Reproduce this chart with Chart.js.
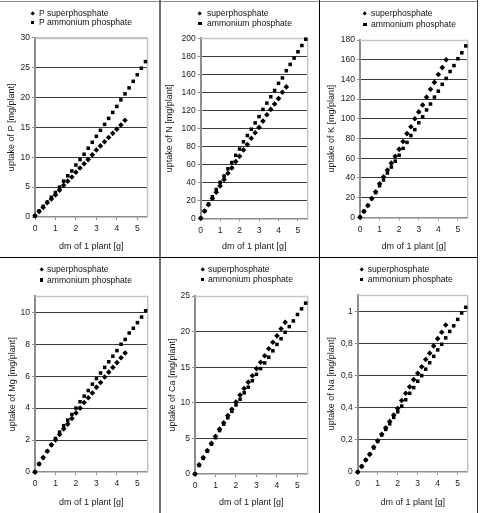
<!DOCTYPE html>
<html>
<head>
<meta charset="utf-8">
<script src="https://cdn.jsdelivr.net/npm/chart.js@4.4.0/dist/chart.umd.min.js"></script>
<style>
  html, body { margin: 0; padding: 0; background: #fff; }
  #wrap { position: relative; width: 480px; height: 513px; background: #fff; overflow: hidden; }
  .panel { position: absolute; width: 160px; height: 257px; }
  .panel canvas { position: absolute; left: 0; top: 0; }
  .leg { position: absolute; font: 8.6px "Liberation Sans", Arial, sans-serif; color: #111; white-space: nowrap; line-height: 10px; }
  .mk { position: absolute; background: #000; }
  .line { position: absolute; }
</style>
</head>
<body>
<div id="wrap"></div>
<script>
// ---- data ----
const xSuper = [0,0.2,0.4,0.6,0.8,1.0,1.2,1.4,1.6,1.8,2.0,2.2,2.4,2.6,2.8,3.0,3.2,3.4,3.6,3.8,4.0,4.2,4.4];
const xAmmon = [0,0.2,0.4,0.6,0.8,1.0,1.2,1.4,1.6,1.8,2.0,2.2,2.4,2.6,2.8,3.0,3.2,3.4,3.6,3.8,4.0,4.2,4.4,4.6,4.8,5.0,5.2,5.4];

const pSuper = [0.2,0.9,1.6,2.4,3.0,3.7,4.5,5.3,6.0,6.7,7.5,8.2,8.9,9.6,10.4,11.2,11.9,12.6,13.3,14.0,14.7,15.4,16.2];
const pAmmon = [0.2,1.0,1.8,2.5,3.3,4.1,5.0,6.0,6.9,7.7,8.7,9.6,10.5,11.5,12.5,13.5,14.5,15.5,16.5,17.5,18.5,19.6,20.6,21.6,22.7,23.8,24.9,26.0];

const nSuper = [0,8,15,22,29,36,43,50,56,63,69,76,82,89,95,101,108,115,121,127,133,140,146];
const nAmmon = [0,8,16,24,32,40,47,55,62,70,77,85,92,99,106,113,121,128,135,142,150,156,164,171,178,185,192,199];

const kSuper = [0,6,12,19,26,34,41,48,55,62,69,77,85,92,100,107,114,122,130,137,145,152,160];
const kAmmon = [0,6,12,19,25,32,38,45,51,57,63,70,76,83,89,96,102,109,115,122,128,135,141,148,154,161,167,174];

const mgSuper = [0,0.5,0.9,1.3,1.7,2.0,2.35,2.7,3.0,3.35,3.7,4.0,4.35,4.65,4.95,5.3,5.6,5.95,6.25,6.55,6.85,7.15,7.45];
const mgAmmon = [0,0.5,0.9,1.3,1.7,2.1,2.5,2.9,3.25,3.6,4.0,4.4,4.75,5.1,5.5,5.85,6.2,6.55,6.9,7.25,7.6,8.0,8.3,8.7,9.0,9.35,9.7,10.1];

const caSuper = [0,1.3,2.3,3.3,4.3,5.3,6.3,7.2,8.2,9.1,10.1,11.1,12.0,12.9,13.8,14.8,15.7,16.6,17.6,18.5,19.4,20.4,21.3];
const caAmmon = [0,1.2,2.2,3.2,4.2,5.1,6.1,7.0,7.9,8.8,9.7,10.5,11.4,12.2,13.1,14.0,14.8,15.6,16.4,17.3,18.2,19.0,19.9,20.7,21.5,22.4,23.2,24.0];

const naSuper = [0,0.035,0.075,0.11,0.155,0.195,0.235,0.275,0.315,0.355,0.395,0.445,0.49,0.53,0.575,0.615,0.655,0.70,0.74,0.785,0.83,0.87,0.915];
const naAmmon = [0,0.035,0.075,0.11,0.15,0.19,0.23,0.265,0.30,0.34,0.375,0.41,0.45,0.49,0.525,0.565,0.60,0.64,0.68,0.72,0.76,0.795,0.835,0.875,0.91,0.95,0.99,1.025];

const xTicks = [0,1,2,3,4,5];
const xTickLabels = ['0','1','2','3','4','5'];
const pTicks = [0,5,10,15,20,25,30];
const pTickLabels = ['0','5','10','15','20','25','30'];
const nTicks = [0,20,40,60,80,100,120,140,160,180,200];
const nTickLabels = ['0','20','40','60','80','100','120','140','160','180','200'];
const kTicks = [0,20,40,60,80,100,120,140,160,180];
const kTickLabels = ['0','20','40','60','80','100','120','140','160','180'];
const mgTicks = [0,2,4,6,8,10];
const mgTickLabels = ['0','2','4','6','8','10'];
const caTicks = [0,5,10,15,20,25];
const caTickLabels = ['0','5','10','15','20','25'];
const naTicks = [0,0.2,0.4,0.6,0.8,1];
const naTickLabels = ['0','0,2','0,4','0,6','0,8','1'];

const xTitle = 'dm of 1 plant [g]';

// ---- panel layout ----
const panels = [
  {px:0,   py:0,   L:35,   R:147.5, T:37.7, B:217,   ymax:30,  ticks:pTicks,  labels:pTickLabels,  sup:pSuper,  amm:pAmmon,  yTitle:'uptake of P [mg/plant]',  lsup:'P superphosphate', lamm:'P ammonium phosphate', lgMk:32.7, lgTx:39, lgY1:13.3, lgY2:22.3, tpad:6.5},
  {px:160, py:0,   L:40.7, R:147.7, T:38.3, B:218.3, ymax:200, ticks:nTicks,  labels:nTickLabels,  sup:nSuper,  amm:nAmmon,  yTitle:'uptake of N [mg/plant]',  lsup:'superphosphate', lamm:'ammonium phosphate', lgMk:40, lgTx:47, lgY1:13.3, lgY2:23.7, tpad:4.6},
  {px:320, py:0,   L:40,   R:147.7, T:40,   B:217.3, ymax:180, ticks:kTicks,  labels:kTickLabels,  sup:kSuper,  amm:kAmmon,  yTitle:'uptake of K [mg/plant]',  lsup:'superphosphate', lamm:'ammonium phosphate', lgMk:45, lgTx:51, lgY1:13.3, lgY2:24.7, tpad:6.5},
  {px:0,   py:256, L:35,   R:147.7, T:40.3, B:216,   ymax:11,  ticks:mgTicks, labels:mgTickLabels, sup:mgSuper, amm:mgAmmon, yTitle:'uptake of Mg [mg/plant]', lsup:'superphosphate', lamm:'ammonium phosphate', lgMk:41.7, lgTx:47, lgY1:13.3, lgY2:24, tpad:6.8},
  {px:160, py:256, L:35,   R:147.7, T:40,   B:218,   ymax:25,  ticks:caTicks, labels:caTickLabels, sup:caSuper, amm:caAmmon, yTitle:'uptake of Ca [mg/plant]', lsup:'superphosphate', lamm:'ammonium phosphate', lgMk:42.3, lgTx:48, lgY1:13.3, lgY2:23.3, tpad:6.8},
  {px:320, py:256, L:37.7, R:147.7, T:39.3, B:216,   ymax:1.1, ticks:naTicks, labels:naTickLabels, sup:naSuper, amm:naAmmon, yTitle:'uptake of Na [mg/plant]', lsup:'superphosphate', lamm:'ammonium phosphate', lgMk:41.7, lgTx:47.7, lgY1:13.3, lgY2:23.7, tpad:6.3}
];

const FONT = '"Liberation Sans", Arial, sans-serif';
const TXT = '#1a1a1a';
const W = 160, H = 257;

const boxPlugin = {
  id: 'box',
  beforeDatasetsDraw(chart) {
    const a = chart.chartArea, ctx = chart.ctx;
    ctx.save();
    ctx.strokeStyle = '#c4c4c4';
    ctx.lineWidth = 1.5;
    ctx.beginPath();
    ctx.moveTo(a.left, Math.round(a.top) + 0.5);
    ctx.lineTo(a.right, Math.round(a.top) + 0.5);
    ctx.lineTo(a.right, a.bottom);
    ctx.stroke();
    ctx.restore();
  }
};

const wrap = document.getElementById('wrap');

function addLine(x, y, w, h, c) {
  const d = document.createElement('div');
  d.className = 'line';
  d.style.cssText = `left:${x}px;top:${y}px;width:${w}px;height:${h}px;background:${c}`;
  wrap.appendChild(d);
}

panels.forEach((p) => {
  const div = document.createElement('div');
  div.className = 'panel';
  div.style.left = p.px + 'px';
  div.style.top = p.py + 'px';
  const cv = document.createElement('canvas');
  cv.width = W; cv.height = H;
  cv.style.width = W + 'px'; cv.style.height = H + 'px';
  div.appendChild(cv);
  wrap.appendChild(div);

  const chart = new Chart(cv, {
    type: 'scatter',
    data: {
      datasets: [
        { label: p.lsup, data: xSuper.map((x, i) => ({x, y: p.sup[i]})), pointStyle: 'rectRot', pointRadius: 2.8, backgroundColor: '#000', borderWidth: 0, clip: false },
        { label: p.lamm, data: xAmmon.map((x, i) => ({x, y: p.amm[i]})), pointStyle: 'rect', pointRadius: 2.5, backgroundColor: '#000', borderWidth: 0, clip: false }
      ]
    },
    options: {
      responsive: false,
      animation: false,
      events: [],
      devicePixelRatio: 1,
      layout: { padding: { left: 0, top: p.T, right: W - p.R, bottom: 0 } },
      plugins: { legend: { display: false }, tooltip: { enabled: false } },
      scales: {
        x: {
          type: 'linear', min: 0, max: 5.5,
          afterFit: (s) => { s.height = H - p.B; },
          afterBuildTicks: (s) => { s.ticks = xTicks.map(v => ({value: v})); },
          ticks: { font: { family: FONT, size: 8.5 }, color: TXT, padding: 4, maxRotation: 0, autoSkip: false,
                   callback: (v, i) => xTickLabels[i] },
          grid: { drawOnChartArea: false, drawTicks: true, tickLength: 3, color: '#8c8c8c' },
          border: { color: '#8c8c8c', width: 1.5 },
          title: { display: true, text: xTitle, font: { family: FONT, size: 9 }, color: TXT, padding: { top: 0, bottom: 5 } }
        },
        y: {
          type: 'linear', min: 0, max: p.ymax,
          afterFit: (s) => { s.width = p.L; },
          afterBuildTicks: (s) => { s.ticks = p.ticks.map(v => ({value: v})); },
          ticks: { font: { family: FONT, size: 8.5 }, color: TXT, padding: 2, autoSkip: false,
                   callback: (v, i) => p.labels[i] },
          grid: {
            drawTicks: true, tickLength: 3, lineWidth: 1,
            color: (ctx) => {
              const v = ctx.tick ? ctx.tick.value : 0;
              if (v === 0) return 'rgba(0,0,0,0)';
              if (Math.abs(v - p.ymax) < 1e-9) return '#c4c4c4';
              return '#3a3a3a';
            },
            tickColor: '#8c8c8c'
          },
          border: { color: '#8c8c8c', width: 2 },
          title: { display: true, text: p.yTitle, font: { family: FONT, size: 9 }, color: TXT, padding: { top: p.tpad, bottom: 0 } }
        }
      }
    },
    plugins: [boxPlugin]
  });

  // legend built from the chart's dataset labels
  const ys = [p.lgY1, p.lgY2];
  chart.data.datasets.forEach((ds, i) => {
    const mk = document.createElement('div');
    mk.className = 'mk';
    if (ds.pointStyle === 'rectRot') {
      mk.style.cssText = `left:${p.lgMk - 1.7}px;top:${ys[i] - 1.7}px;width:3.4px;height:3.4px;transform:rotate(45deg)`;
    } else {
      mk.style.cssText = `left:${p.lgMk - 1.6}px;top:${ys[i] - 1.6}px;width:3.2px;height:3.2px`;
    }
    div.appendChild(mk);
    const t = document.createElement('div');
    t.className = 'leg';
    t.textContent = ds.label;
    t.style.left = p.lgTx + 'px';
    t.style.top = (ys[i] - 5.5) + 'px';
    div.appendChild(t);
  });
});

// frame lines
addLine(0, 1, 478, 1, '#8a8a8a');
addLine(159, 0, 2, 513, '#6e6e6e');
addLine(319, 0, 1, 513, '#000');
addLine(0, 257, 478, 1, '#000');
addLine(477, 0, 1, 513, '#333');
</script>
</body>
</html>
